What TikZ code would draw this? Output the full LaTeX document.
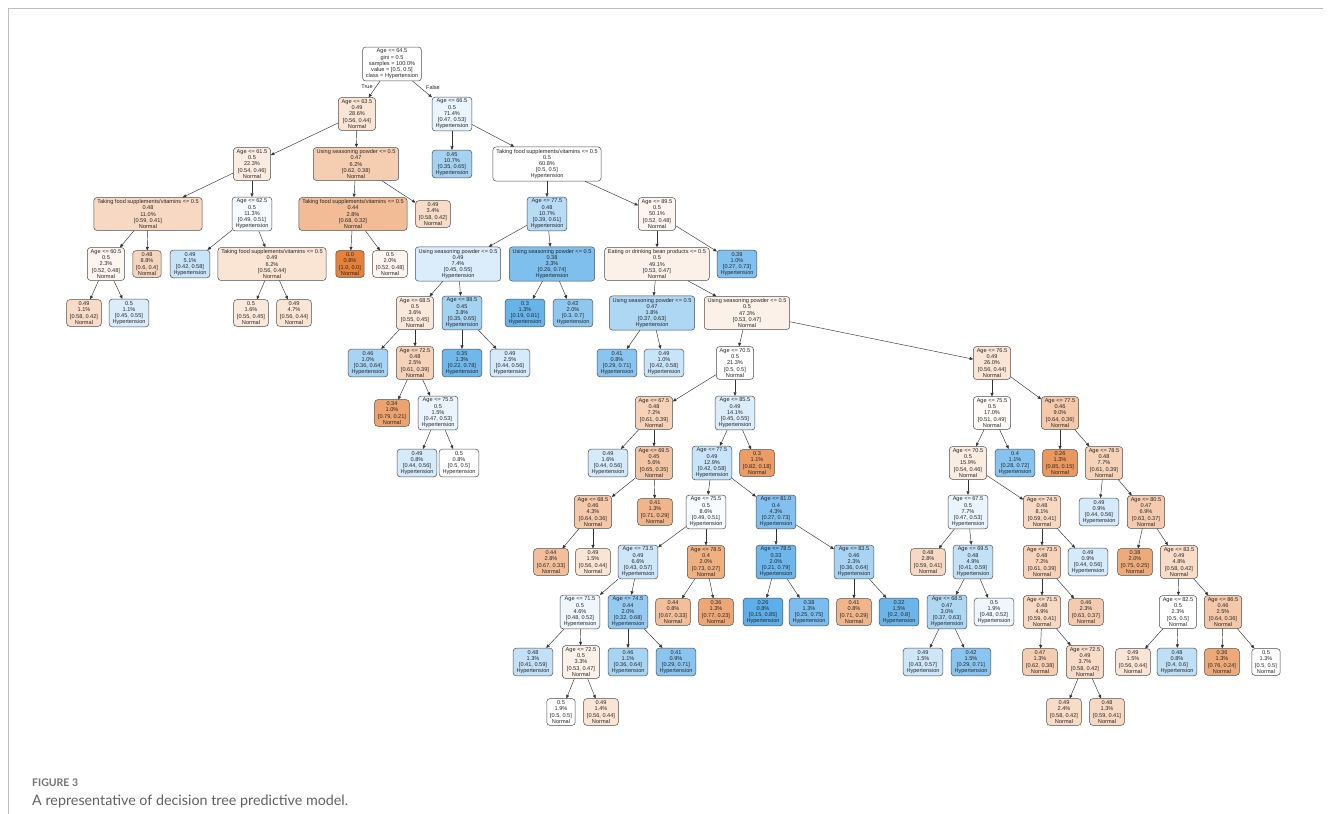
\documentclass[tikz,border=0pt]{standalone}
\usepackage{fontspec}
\setmainfont{Liberation Sans}
\newfontfamily\capfont{Lato}
\usetikzlibrary{arrows.meta}
\definecolor{N}{RGB}{229,129,57}
\definecolor{H}{RGB}{57,157,229}
\definecolor{txt}{RGB}{40,40,40}
\newcommand\vv[1]{[#1]}
\newcommand\mkin[8]{\node[nd,fill=#2] (#1) at (#3) {#4\\#5\\#6\\\vv{#7}\\#8};}
\newcommand\mklf[7]{\node[nd,fill=#2] (#1) at (#3) {#4\\#5\\\vv{#6}\\#7};}
\tikzset{
  nd/.style={draw=black!70, line width=0.5pt, rounded corners=3pt, align=center,
    font=\fontsize{5.6}{6.2}\selectfont, text=txt, inner xsep=3.3pt, inner ysep=2pt},
  edge/.style={-{Triangle[length=3.5pt,width=3pt]}, draw=black!80, line width=0.45pt},
  lbl/.style={font=\fontsize{5.6}{6.2}\selectfont, text=txt, inner sep=0pt}
}
\begin{document}
\begin{tikzpicture}[x=1pt,y=-1pt]
\useasboundingbox (0,0) rectangle (1331,814);
\fill[white] (0,0) rectangle (1331,814);
\draw[black!25, line width=0.8pt] (8,814) -- (8,8) -- (1323,8);
% root
\node[nd,fill=white] (r) at (392,64) {Age <= 64.5\\gini = 0.5\\samples = 100.0\%\\value = \vv{0.5, 0.5}\\class = Hypertension};
% level 1
\mkin{a}{N!21}{357,114}{Age <= 63.5}{0.49}{28.6\%}{0.56, 0.44}{Normal}
\mkin{b}{H!11}{452,114}{Age <= 66.5}{0.5}{71.4\%}{0.47, 0.53}{Hypertension}
% level 2
\mkin{a1}{N!15}{252,164}{Age <= 61.5}{0.5}{22.3\%}{0.54, 0.46}{Normal}
\mkin{a2}{N!39}{356,164}{Using seasoning powder <= 0.5}{0.47}{6.2\%}{0.62, 0.38}{Normal}
\mklf{b1}{H!46}{452,164}{0.45}{10.7\%}{0.35, 0.65}{Hypertension}
\mkin{b2}{white}{547,164}{Taking food supplements/vitamins <= 0.5}{0.5}{60.8\%}{0.5, 0.5}{Hypertension}
% level 3
\mkin{a11}{N!31}{148,214}{Taking food supplements/vitamins <= 0.5}{0.48}{11.0\%}{0.59, 0.41}{Normal}
\mkin{a12}{H!4}{252,214}{Age <= 62.5}{0.5}{11.3\%}{0.49, 0.51}{Hypertension}
\mkin{a21}{N!53}{353,214}{Taking food supplements/vitamins <= 0.5}{0.44}{2.8\%}{0.68, 0.32}{Normal}
\mklf{a22}{N!28}{433,214}{0.49}{3.4\%}{0.58, 0.42}{Normal}
\mkin{b21}{H!36}{547,214}{Age <= 77.5}{0.48}{10.7\%}{0.39, 0.61}{Hypertension}
\mkin{b22}{N!8}{657,214}{Age <= 89.5}{0.5}{50.1\%}{0.52, 0.48}{Normal}
% level 4
\mkin{a111}{N!8}{106,264}{Age <= 60.5}{0.5}{2.3\%}{0.52, 0.48}{Normal}
\mklf{a112}{N!33}{147,264}{0.48}{8.8\%}{0.6, 0.4}{Normal}
\mklf{a121}{H!28}{190,264}{0.49}{5.1\%}{0.42, 0.58}{Hypertension}
\mkin{a122}{N!21}{272,264}{Taking food supplements/vitamins <= 0.5}{0.49}{6.2\%}{0.56, 0.44}{Normal}
\mklf{a211}{N!100}{350,264}{0.0}{0.8\%}{1.0, 0.0}{Normal}
\mklf{a212}{N!8}{390,264}{0.5}{2.0\%}{0.52, 0.48}{Normal}
\mkin{b211}{H!18}{458,264}{Using seasoning powder <= 0.5}{0.49}{7.4\%}{0.45, 0.55}{Hypertension}
\mkin{b212}{H!65}{552,264}{Using seasoning powder <= 0.5}{0.38}{3.3\%}{0.26, 0.74}{Hypertension}
\mkin{b221}{N!11}{657,264}{Eating or drinking bean products <= 0.5}{0.5}{49.1\%}{0.53, 0.47}{Normal}
\mklf{b222}{H!63}{737,264}{0.39}{1.0\%}{0.27, 0.73}{Hypertension}
% level 5
\mklf{c1}{N!28}{84,313}{0.49}{1.1\%}{0.58, 0.42}{Normal}
\mklf{c2}{H!18}{129,313}{0.5}{1.1\%}{0.45, 0.55}{Hypertension}
\mklf{c3}{N!18}{251,313}{0.5}{1.6\%}{0.55, 0.45}{Normal}
\mklf{c4}{N!21}{294,313}{0.49}{4.7\%}{0.56, 0.44}{Normal}
\mkin{d1}{N!18}{415,313}{Age <= 68.5}{0.5}{3.6\%}{0.55, 0.45}{Normal}
\mkin{d2}{H!46}{462,313}{Age <= 88.5}{0.45}{3.8\%}{0.35, 0.65}{Hypertension}
\mklf{d3}{H!77}{525,313}{0.3}{1.3\%}{0.19, 0.81}{Hypertension}
\mklf{d4}{H!57}{573,313}{0.42}{2.0\%}{0.3, 0.7}{Hypertension}
\mkin{e1}{H!41}{652,313}{Using seasoning powder <= 0.5}{0.47}{1.8\%}{0.37, 0.63}{Hypertension}
\mkin{e2}{N!11}{747,313}{Using seasoning powder <= 0.5}{0.5}{47.3\%}{0.53, 0.47}{Normal}
% level 6
\mklf{d11}{H!44}{368,363}{0.46}{1.0\%}{0.36, 0.64}{Hypertension}
\mkin{d12}{N!36}{415,363}{Age <= 72.5}{0.48}{2.5\%}{0.61, 0.39}{Normal}
\mklf{d21}{H!72}{462,363}{0.35}{1.3\%}{0.22, 0.78}{Hypertension}
\mklf{d22}{H!21}{510,363}{0.49}{2.5\%}{0.44, 0.56}{Hypertension}
\mklf{e11}{H!59}{617,363}{0.41}{0.8\%}{0.29, 0.71}{Hypertension}
\mklf{e12}{H!28}{664,363}{0.49}{1.0\%}{0.42, 0.58}{Hypertension}
\mkin{e21}{white}{735,363}{Age <= 70.5}{0.5}{21.3\%}{0.5, 0.5}{Normal}
\mkin{e22}{N!21}{992,363}{Age <= 76.5}{0.49}{26.0\%}{0.56, 0.44}{Normal}
% level 7
\mklf{d121}{N!73}{392,413}{0.34}{1.0\%}{0.79, 0.21}{Normal}
\mkin{d122}{H!11}{438,413}{Age <= 75.5}{0.5}{1.5\%}{0.47, 0.53}{Hypertension}
\mkin{f1}{N!36}{654,413}{Age <= 67.5}{0.48}{7.2\%}{0.61, 0.39}{Normal}
\mkin{f2}{H!18}{735,413}{Age <= 85.5}{0.49}{14.1\%}{0.45, 0.55}{Hypertension}
\mkin{g1}{N!4}{992,413}{Age <= 75.5}{0.5}{17.0\%}{0.51, 0.49}{Normal}
\mkin{g2}{N!44}{1060,413}{Age <= 77.5}{0.46}{9.0\%}{0.64, 0.36}{Normal}
% level 8
\mklf{d1221}{H!21}{417,463}{0.49}{0.8\%}{0.44, 0.56}{Hypertension}
\mklf{d1222}{white}{459,463}{0.5}{0.8\%}{0.5, 0.5}{Hypertension}
\mklf{f11}{H!21}{608,463}{0.49}{1.6\%}{0.44, 0.56}{Hypertension}
\mkin{f12}{N!46}{654,463}{Age <= 69.5}{0.45}{5.6\%}{0.65, 0.35}{Normal}
\mkin{f21}{H!28}{712,463}{Age <= 77.5}{0.49}{12.9\%}{0.42, 0.58}{Hypertension}
\mklf{f22}{N!78}{757,463}{0.3}{1.1\%}{0.82, 0.18}{Normal}
\mkin{g11}{N!15}{968,463}{Age <= 70.5}{0.5}{15.9\%}{0.54, 0.46}{Normal}
\mklf{g12}{H!61}{1015,463}{0.4}{1.1\%}{0.28, 0.72}{Hypertension}
\mklf{g21}{N!82}{1060,463}{0.26}{1.3\%}{0.85, 0.15}{Normal}
\mkin{g22}{N!36}{1104,463}{Age <= 78.5}{0.48}{7.7\%}{0.61, 0.39}{Normal}
% level 9
\mkin{f121}{N!44}{593,512}{Age <= 68.5}{0.46}{4.3\%}{0.64, 0.36}{Normal}
\mklf{f122}{N!59}{655,512}{0.41}{1.3\%}{0.71, 0.29}{Normal}
\mkin{f211}{H!4}{706,512}{Age <= 75.5}{0.5}{8.6\%}{0.49, 0.51}{Hypertension}
\mkin{f212}{H!63}{776,512}{Age <= 81.0}{0.4}{4.3\%}{0.27, 0.73}{Hypertension}
\mkin{g111}{H!11}{968,512}{Age <= 67.5}{0.5}{7.7\%}{0.47, 0.53}{Hypertension}
\mkin{g112}{N!31}{1042,512}{Age <= 74.5}{0.48}{8.1\%}{0.59, 0.41}{Normal}
\mklf{g221}{H!21}{1099,512}{0.49}{0.9\%}{0.44, 0.56}{Hypertension}
\mkin{g222}{N!41}{1146,512}{Age <= 80.5}{0.47}{6.9\%}{0.63, 0.37}{Normal}
% level 10
\mklf{f1211}{N!51}{551,562}{0.44}{2.8\%}{0.67, 0.33}{Normal}
\mklf{f1212}{N!21}{593,562}{0.49}{1.5\%}{0.56, 0.44}{Normal}
\mkin{f2111}{H!25}{638,562}{Age <= 73.5}{0.49}{6.6\%}{0.43, 0.57}{Hypertension}
\mkin{f2112}{N!63}{706,562}{Age <= 78.5}{0.4}{2.0\%}{0.73, 0.27}{Normal}
\mkin{f2121}{H!73}{776,562}{Age <= 78.5}{0.33}{2.0\%}{0.21, 0.79}{Hypertension}
\mkin{f2122}{H!44}{854,562}{Age <= 83.5}{0.46}{2.3\%}{0.36, 0.64}{Hypertension}
\mklf{g1111}{N!31}{928,562}{0.48}{2.8\%}{0.59, 0.41}{Normal}
\mkin{g1112}{H!31}{973,562}{Age <= 69.5}{0.48}{4.9\%}{0.41, 0.59}{Hypertension}
\mkin{g1121}{N!36}{1042,562}{Age <= 73.5}{0.48}{7.2\%}{0.61, 0.39}{Normal}
\mklf{g1122}{H!21}{1088,562}{0.49}{0.9\%}{0.44, 0.56}{Hypertension}
\mklf{g2221}{N!67}{1135,562}{0.38}{2.0\%}{0.75, 0.25}{Normal}
\mkin{g2222}{N!28}{1179,562}{Age <= 83.5}{0.49}{4.8\%}{0.58, 0.42}{Normal}
% level 11
\mkin{h1}{H!8}{580,612}{Age <= 71.5}{0.5}{4.6\%}{0.48, 0.52}{Hypertension}
\mkin{h2}{H!53}{628,612}{Age <= 74.5}{0.44}{2.0\%}{0.32, 0.68}{Hypertension}
\mklf{h3}{N!51}{673,612}{0.44}{0.8\%}{0.67, 0.33}{Normal}
\mklf{h4}{N!70}{716,612}{0.36}{1.3\%}{0.77, 0.23}{Normal}
\mklf{h5}{H!82}{763,612}{0.26}{0.8\%}{0.15, 0.85}{Hypertension}
\mklf{h6}{H!67}{809,612}{0.38}{1.3\%}{0.25, 0.75}{Hypertension}
\mklf{h7}{N!59}{854,612}{0.41}{0.8\%}{0.71, 0.29}{Normal}
\mklf{h8}{H!75}{899,612}{0.32}{1.5\%}{0.2, 0.8}{Hypertension}
\mkin{h9}{H!41}{947,612}{Age <= 68.5}{0.47}{3.0\%}{0.37, 0.63}{Hypertension}
\mklf{h10}{H!8}{994,612}{0.5}{1.9\%}{0.48, 0.52}{Hypertension}
\mkin{h11}{N!31}{1042,612}{Age <= 71.5}{0.48}{4.9\%}{0.59, 0.41}{Normal}
\mklf{h12}{N!41}{1086,612}{0.46}{2.3\%}{0.63, 0.37}{Normal}
\mkin{h13}{white}{1178,612}{Age <= 82.5}{0.5}{2.3\%}{0.5, 0.5}{Normal}
\mkin{h14}{N!44}{1223,612}{Age <= 86.5}{0.46}{2.5\%}{0.64, 0.36}{Normal}
% level 12
\mklf{i1}{H!31}{533,662}{0.48}{1.3\%}{0.41, 0.59}{Hypertension}
\mkin{i2}{N!11}{581,662}{Age <= 72.5}{0.5}{3.3\%}{0.53, 0.47}{Normal}
\mklf{i3}{H!44}{628,662}{0.46}{1.1\%}{0.36, 0.64}{Hypertension}
\mklf{i4}{H!59}{676,662}{0.41}{0.9\%}{0.29, 0.71}{Hypertension}
\mklf{i5}{H!25}{923,662}{0.49}{1.5\%}{0.43, 0.57}{Hypertension}
\mklf{i6}{H!59}{971,662}{0.42}{1.5\%}{0.29, 0.71}{Hypertension}
\mklf{i7}{N!39}{1040,662}{0.47}{1.3\%}{0.62, 0.38}{Normal}
\mkin{i8}{N!28}{1085,662}{Age <= 72.5}{0.49}{3.7\%}{0.58, 0.42}{Normal}
\mklf{i9}{N!21}{1133,662}{0.49}{1.5\%}{0.56, 0.44}{Normal}
\mklf{i10}{H!33}{1177,662}{0.48}{0.8\%}{0.4, 0.6}{Hypertension}
\mklf{i11}{N!68}{1222,662}{0.36}{1.3\%}{0.76, 0.24}{Normal}
\mklf{i12}{white}{1266,662}{0.5}{1.3\%}{0.5, 0.5}{Normal}
% level 13
\mklf{j1}{white}{561,712}{0.5}{1.9\%}{0.5, 0.5}{Normal}
\mklf{j2}{N!21}{601,712}{0.49}{1.4\%}{0.56, 0.44}{Normal}
\mklf{j3}{N!28}{1064,712}{0.49}{2.4\%}{0.58, 0.42}{Normal}
\mklf{j4}{N!31}{1107,712}{0.48}{1.3\%}{0.59, 0.41}{Normal}
% edges
\foreach \p/\c in {r/a, r/b, a/a1, a/a2, b/b1, b/b2,
  a1/a11, a1/a12, a2/a21, a2/a22, b2/b21, b2/b22,
  a11/a111, a11/a112, a12/a121, a12/a122, a21/a211, a21/a212,
  b21/b211, b21/b212, b22/b221, b22/b222,
  a111/c1, a111/c2, a122/c3, a122/c4, b211/d1, b211/d2, b212/d3, b212/d4,
  b221/e1, b221/e2,
  d1/d11, d1/d12, d2/d21, d2/d22, e1/e11, e1/e12, e2/e21, e2/e22,
  d12/d121, d12/d122, e21/f1, e21/f2, e22/g1, e22/g2,
  d122/d1221, d122/d1222, f1/f11, f1/f12, f2/f21, f2/f22,
  g1/g11, g1/g12, g2/g21, g2/g22,
  f12/f121, f12/f122, f21/f211, f21/f212, g11/g111, g11/g112, g22/g221, g22/g222,
  f121/f1211, f121/f1212, f211/f2111, f211/f2112, f212/f2121, f212/f2122,
  g111/g1111, g111/g1112, g112/g1121, g112/g1122, g222/g2221, g222/g2222,
  f2111/h1, f2111/h2, f2112/h3, f2112/h4, f2121/h5, f2121/h6, f2122/h7, f2122/h8,
  g1112/h9, g1112/h10, g1121/h11, g1121/h12, g2222/h13, g2222/h14,
  h1/i1, h1/i2, h2/i3, h2/i4, h9/i5, h9/i6, h11/i7, h11/i8, h13/i9, h13/i10, h14/i11, h14/i12,
  i2/j1, i2/j2, i8/j3, i8/j4}
  \draw[edge] (\p) -- (\c);
\node[lbl] (tl) at (367,87) {True};
\node[lbl] (fl) at (433,87) {False};
% caption
\node[anchor=west, inner sep=0pt, font=\capfont\bfseries\fontsize{10.5}{12}\selectfont, text=black!55] (fig) at (32,783) {FIGURE 3};
\node[anchor=west, inner sep=0pt, font=\capfont\fontsize{14.3}{16}\selectfont, text=black!62] (cap) at (32,801) {A representative of decision tree predictive model.};
\end{tikzpicture}
\end{document}
